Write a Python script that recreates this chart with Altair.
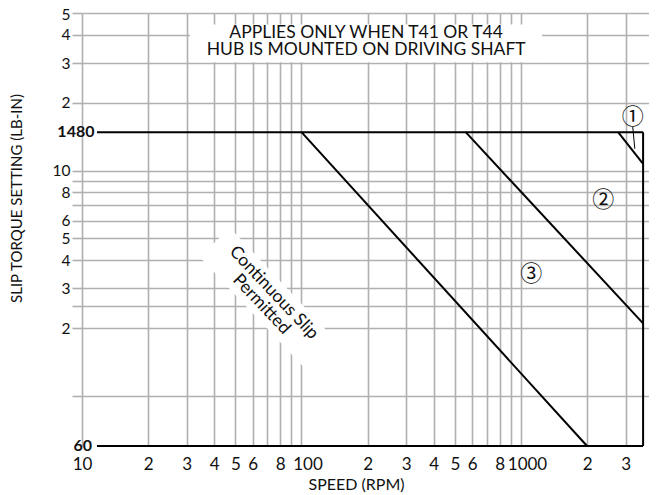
import json
import altair as alt
import pandas as pd

# ---------------- data ----------------
X_TICKS = [10, 20, 30, 40, 50, 60, 70, 80, 90, 100, 200, 300, 400, 500, 600, 700, 800, 900, 1000, 2000, 3000]
X_LABELS = ["10", "2", "3", "4", "5", "6", "", "8", "", "100", "2", "3", "4", "5", "6", "", "8", "", "1000", "2", "3"]
Y_TICKS = [5000, 4000, 3000, 2000, 1000, 900, 800, 700, 600, 500, 400, 300, 250, 200, 100]
Y_LABELS = ["5", "4", "3", "2", "10", "", "8", "", "6", "5", "4", "3", "", "2", ""]

X_DOMAIN = [10, 3830]
Y_DOMAIN = [60, 5000]

# boundary lines (speed rpm, torque lb-in)
SEG_X1 = [11.7, 11.7, 3600, 100, 560, 2770]
SEG_Y1 = [1480, 60, 60, 1480, 1480, 1480]
SEG_X2 = [3600, 3600, 3600, 2000, 3600, 3600]
SEG_Y2 = [1480, 60, 1480, 60, 210, 1070]

# leader line for region 1
LEAD_X1, LEAD_Y1, LEAD_X2, LEAD_Y2 = [3230], [1560], [3300], [1250]

# bold limit labels
LIMIT_TEXT = ["1480", "60"]
LIMIT_X = [11.4, 11.1]
LIMIT_Y = [1480, 60]

# region markers
REGION_TEXT = ["\u2460", "\u2461", "\u2462"]
REGION_X = [3228, 2371, 1114]
REGION_Y = [1734, 740, 346]

# note box
NOTE_TEXT = ["APPLIES ONLY WHEN T41 OR T44", "HUB IS MOUNTED ON DRIVING SHAFT"]
NOTE_X = [197, 197]
NOTE_Y = [4074, 3425]
NOTE_BOX = dict(x=31, x2=1247, y=3020, y2=4450)

# continuous slip label
SLIP_TEXT = ["Continuous Slip", "Permitted"]
SLIP_X = [74.7, 65.6]
SLIP_Y = [287, 255]
SLIP_BOX_X = [70.3]
SLIP_BOX_Y = [270]

FONT = "Lato"

xs = alt.Scale(type="log", domain=X_DOMAIN, nice=False)
ys = alt.Scale(type="log", domain=Y_DOMAIN, nice=False)

x_label_expr = f"{json.dumps(X_LABELS)}[indexof({json.dumps(X_TICKS)}, datum.value)]"
y_label_expr = f"{json.dumps(Y_LABELS)}[indexof({json.dumps(Y_TICKS)}, datum.value)]"

GRID = "#b0b0b0"

x_axis = alt.Axis(values=X_TICKS, labelExpr=x_label_expr, grid=True, gridColor=GRID, gridWidth=1.6,
                  ticks=False, domain=False, labelFlush=False, labelOverlap=False, labelPadding=10,
                  labelOffset={"condition": {"test": "datum.value === 100 || datum.value === 1000",
                                             "value": 6}, "value": 0},
                  labelFont=FONT, labelFontSize=17, labelColor="#111",
                  title="SPEED (RPM)", titleFont=FONT, titleFontSize=16, titleFontWeight="normal",
                  titleColor="#111", titleX=274, titleY=38, titleAlign="center", titleBaseline="middle")
y_axis = alt.Axis(values=Y_TICKS, labelExpr=y_label_expr, grid=True, gridColor=GRID, gridWidth=1.6,
                  ticks=True, tickColor=GRID, tickWidth=1.6, tickSize=10, domain=False,
                  labelFlush=False, labelOverlap=False, labelPadding=2,
                  labelOffset={"condition": {"test": "datum.value === 5000", "value": 1}, "value": 0},
                  labelFont=FONT, labelFontSize=15.5, labelColor="#111",
                  title="SLIP TORQUE SETTING (LB-IN)", titleFont=FONT, titleFontSize=15,
                  titleFontWeight="normal", titleColor="#111", titleX=-66, titleY=185,
                  titleAlign="center", titleBaseline="middle", titleAngle=-90)

segs = pd.DataFrame({"x1": SEG_X1, "y1": SEG_Y1, "x2": SEG_X2, "y2": SEG_Y2})
base_axes = alt.Chart(segs).mark_rule(color="black", strokeWidth=2).encode(
    x=alt.X("x1:Q", scale=xs, axis=x_axis),
    y=alt.Y("y1:Q", scale=ys, axis=y_axis),
    x2="x2:Q", y2="y2:Q")

lead = alt.Chart(pd.DataFrame({"x1": LEAD_X1, "y1": LEAD_Y1, "x2": LEAD_X2, "y2": LEAD_Y2})).mark_rule(
    color="black", strokeWidth=1).encode(x=alt.X("x1:Q", scale=xs), y=alt.Y("y1:Q", scale=ys), x2="x2:Q", y2="y2:Q")

note_box = alt.Chart(pd.DataFrame([NOTE_BOX])).mark_rect(fill="white").encode(
    x=alt.X("x:Q", scale=xs), x2="x2:Q", y=alt.Y("y:Q", scale=ys), y2="y2:Q")
note = alt.Chart(pd.DataFrame({"t": NOTE_TEXT, "x": NOTE_X, "y": NOTE_Y})).mark_text(
    font=FONT, fontSize=17.5, color="#111", align="center", baseline="middle").encode(
    x=alt.X("x:Q", scale=xs), y=alt.Y("y:Q", scale=ys), text="t:N")

slip_box = alt.Chart(pd.DataFrame({"x": SLIP_BOX_X, "y": SLIP_BOX_Y})).mark_point(
    shape="M-1,-0.27L1,-0.27L1,0.27L-1,0.27Z", filled=True, fill="white", opacity=1,
    size=155 * 155, angle=46.7).encode(x=alt.X("x:Q", scale=xs), y=alt.Y("y:Q", scale=ys))
slip = alt.Chart(pd.DataFrame({"t": SLIP_TEXT, "x": SLIP_X, "y": SLIP_Y})).mark_text(
    font=FONT, fontSize=17.5, color="#111", align="center", baseline="middle", angle=46.7).encode(
    x=alt.X("x:Q", scale=xs), y=alt.Y("y:Q", scale=ys), text="t:N")

limits = alt.Chart(pd.DataFrame({"t": LIMIT_TEXT, "x": LIMIT_X, "y": LIMIT_Y})).mark_text(
    font=FONT, fontSize=16, fontWeight="bold", color="#111", align="right", baseline="middle").encode(
    x=alt.X("x:Q", scale=xs), y=alt.Y("y:Q", scale=ys), text="t:N")

regions = alt.Chart(pd.DataFrame({"t": REGION_TEXT, "x": REGION_X, "y": REGION_Y})).mark_text(
    font="Noto Sans CJK JP", fontSize=22, color="#111", align="center", baseline="middle").encode(
    x=alt.X("x:Q", scale=xs), y=alt.Y("y:Q", scale=ys), text="t:N")

chart = alt.layer(base_axes, note_box, note, slip_box, slip, lead, limits, regions).properties(
    width=567, height=433,
    autosize=alt.AutoSizeParams(type="none"),
    padding={"left": 74, "top": 5, "right": 0, "bottom": 49},
    background="white",
).configure_view(stroke=None)

chart.save("out.html", embed_options={"renderer": "svg", "actions": False})
